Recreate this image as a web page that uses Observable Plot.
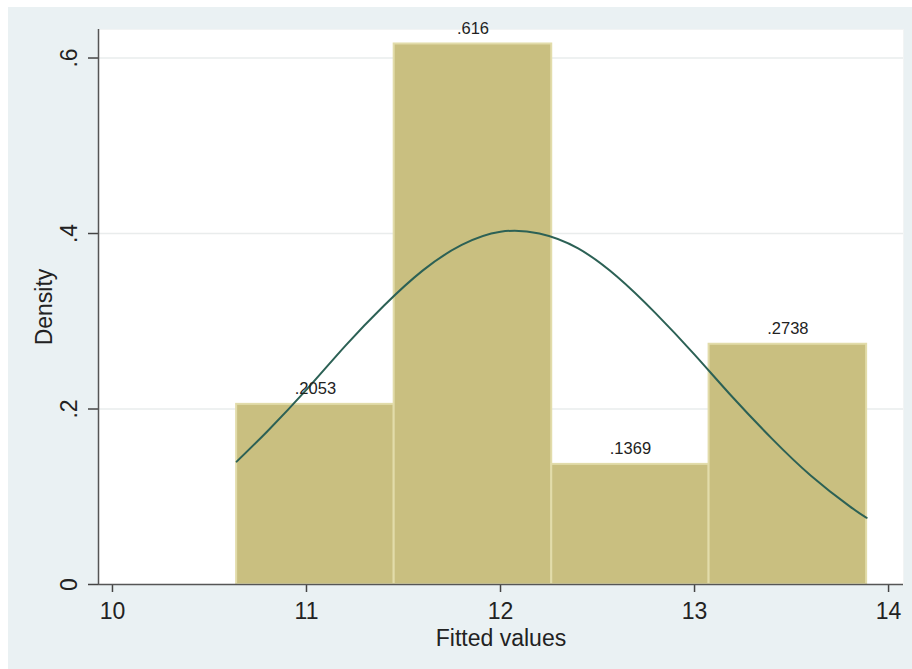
<!DOCTYPE html>
<html><head><meta charset="utf-8">
<script src="https://cdn.jsdelivr.net/npm/d3@7"></script>
<script src="https://cdn.jsdelivr.net/npm/@observablehq/plot@0.6"></script>
<style>
body{margin:0;background:#fff;font-family:"Liberation Sans",Arial,sans-serif;}
#wrap{position:relative;width:912px;height:669px;overflow:hidden;}
#bg{position:absolute;left:8px;top:7px;right:0;bottom:0;background:#EAF1F3;}
#chart{position:absolute;left:0;top:0;}
</style></head><body>
<div id="wrap"><div id="bg"></div><div id="chart"></div></div>
<script>
// Histogram bins (Fitted values)
const binStart = [10.640, 11.452, 12.264, 13.075];
const binEnd   = [11.452, 12.264, 13.075, 13.887];
const density  = [0.2053, 0.616, 0.1369, 0.2738];
const densityLabels = [".2053", ".616", ".1369", ".2738"];

// Normal density curve
const curveX = [10.64, 10.8, 11.0, 11.2, 11.4, 11.6, 11.8, 12.0, 12.2, 12.4, 12.6, 12.8, 13.0, 13.2, 13.4, 13.6, 13.8, 13.887];
const curveY = [0.140, 0.175, 0.222, 0.272, 0.318, 0.358, 0.387, 0.402, 0.400, 0.383, 0.351, 0.309, 0.262, 0.2125, 0.166, 0.124, 0.089, 0.076];

const xTicks = [10, 11, 12, 13, 14];
const xTickLabels = ["10", "11", "12", "13", "14"];
const yTicks = [0, 0.2, 0.4, 0.6];
const yTickLabels = ["0", ".2", ".4", ".6"];
const gridTicks = [0.2, 0.4, 0.6];
const xTitle = "Fitted values";
const yTitle = "Density";

const bars = binStart.map((s, i) => ({x1: s, x2: binEnd[i], y: density[i], label: densityLabels[i]}));
const curve = curveX.map((x, i) => ({x, y: curveY[i]}));
const xLabelData = xTicks.map((v, i) => ({v, t: xTickLabels[i]}));
const yLabelData = yTicks.map((v, i) => ({v, t: yTickLabels[i]}));

const chart = Plot.plot({
  width: 912,
  height: 669,
  marginLeft: 98,
  marginRight: 9,
  marginTop: 29,
  marginBottom: 85,
  style: {background: "transparent", fontFamily: "'Liberation Sans', Arial, sans-serif", fontSize: "24px", color: "#222"},
  x: {domain: [9.928, 14.077], label: null},
  y: {domain: [0, 0.6325], label: null},
  marks: [
    Plot.frame({fill: "white", stroke: "#f2f4f4"}),
    Plot.ruleY(gridTicks, {stroke: "#e9ecec", strokeWidth: 1.5}),
    Plot.rectY(bars, {x1: "x1", x2: "x2", y1: 0, y2: "y", fill: "#C9BF80", stroke: "#E2DCAA", strokeWidth: 2}),
    Plot.line(curve, {x: "x", y: "y", curve: "natural", stroke: "#2C6155", strokeWidth: 2}),
    Plot.text(bars, {x: d => (d.x1 + d.x2) / 2, y: "y", text: "label", dy: -10, lineAnchor: "bottom", fontSize: 16.5, fill: "#222"}),
    Plot.axisX(xTicks, {tickSize: 8, tickFormat: () => "", label: null, stroke: "#444", strokeWidth: 1.5}),
    Plot.axisY(yTicks, {tickSize: 10, tickFormat: () => "", label: null, stroke: "#444", strokeWidth: 1.5}),
    Plot.text(xLabelData, {x: "v", text: "t", frameAnchor: "bottom", dy: 18, textAnchor: "middle", lineAnchor: "top", fontSize: 23, fill: "#222"}),
    Plot.text(yLabelData, {y: "v", text: "t", frameAnchor: "left", dx: -22, rotate: -90, textAnchor: "middle", lineAnchor: "bottom", fontSize: 23, fill: "#222"}),
    Plot.text([xTitle], {frameAnchor: "bottom", dy: 54, textAnchor: "middle", lineAnchor: "middle", fontSize: 23, fill: "#222"}),
    Plot.text([yTitle], {frameAnchor: "left", dx: -54, rotate: -90, textAnchor: "middle", lineAnchor: "middle", fontSize: 23, fill: "#222"}),
    Plot.ruleX([9.928], {stroke: "#555", strokeWidth: 1.5}),
    Plot.ruleY([0], {stroke: "#555", strokeWidth: 1.5})
  ]
});
document.getElementById("chart").appendChild(chart);
</script>
</body></html>
